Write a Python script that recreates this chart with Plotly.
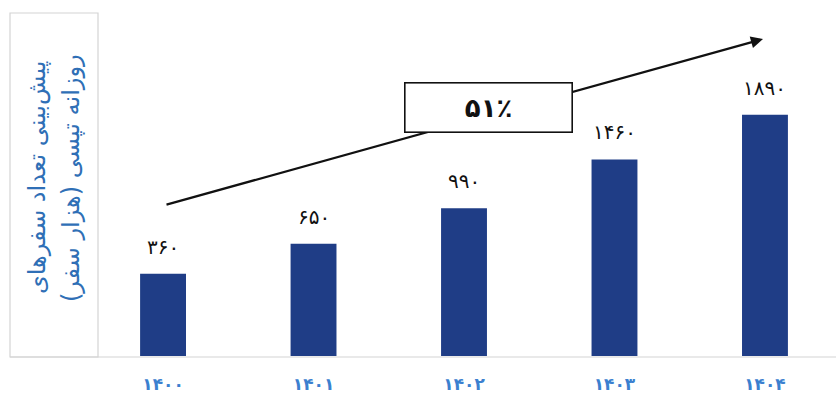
import plotly.graph_objects as go

# ---- data ----
years = ["۱۴۰۰", "۱۴۰۱", "۱۴۰۲", "۱۴۰۳", "۱۴۰۴"]
trips = [360, 650, 990, 1460, 1890]
trip_labels = ["۳۶۰", "۶۵۰", "۹۹۰", "۱۴۶۰", "۱۸۹۰"]
growth_label = "۵۱٪"
title_lines = ["پیش‌بینی تعداد سفرهای", "روزانه تپسی (هزار سفر)"]

# ---- style ----
AXIS_FLOOR = -430          # visual floor of the (truncated) value axis
BAR_COLOR = "#1f3d86"
BLUE = "#2f6fb6"
TICK_BLUE = "#3b80cf"
FONT = "DejaVu Sans"

W, H = 836, 393
ML, MR, MT, MB = 100, 0, 10, 37

fig = go.Figure()
fig.add_trace(go.Bar(
    x=years,
    y=[v - AXIS_FLOOR for v in trips],
    base=AXIS_FLOOR,
    width=0.305,
    marker=dict(color=BAR_COLOR, line=dict(width=0)),
    hoverinfo="skip",
))

annotations = []
# value labels
for yr, v, lab in zip(years, trips, trip_labels):
    annotations.append(dict(
        x=yr, y=v, xref="x", yref="y", text=lab, showarrow=False,
        yanchor="middle", yshift=27,
        font=dict(family=FONT, size=20, color="#111111"),
    ))

pw = W - ML - MR
ph = H - MT - MB
def px(xpix):
    return (xpix - ML) / pw
def py(ypix):
    return (H - MB - ypix) / ph

# trend arrow
annotations.append(dict(
    x=px(763), y=py(39), xref="paper", yref="paper",
    ax=165 - 763, ay=205 - 39, axref="pixel", ayref="pixel",
    text="", showarrow=True, arrowhead=2, arrowsize=1.1, arrowwidth=2.2,
    arrowcolor="#111111",
))
# growth box
annotations.append(dict(
    x=px(488), y=py(107), xref="paper", yref="paper",
    text="<b>" + growth_label + "</b>", showarrow=False,
    width=166, height=48, borderpad=0,
    bgcolor="white", bordercolor="#111111", borderwidth=1.6,
    font=dict(family=FONT, size=26, color="#111111"),
    xanchor="center", yanchor="middle",
))
# title lines in the left box
for xc, line in zip([37, 71], title_lines):
    annotations.append(dict(
        x=px(xc), y=py(178), xref="paper", yref="paper",
        text=line, showarrow=False, textangle=-90,
        xanchor="center", yanchor="middle",
        font=dict(family=FONT, size=24, color=BLUE),
    ))

shapes = [
    dict(type="rect", xref="paper", yref="paper",
         x0=px(10), x1=px(98), y0=py(357), y1=py(13),
         line=dict(color="#d4d4d4", width=1.2), layer="below"),
    dict(type="line", xref="paper", yref="paper",
         x0=px(10), x1=1.0, y0=py(357), y1=py(357),
         line=dict(color="#d4d4d4", width=1.2), layer="below"),
]

k = 0.104  # px per unit
fig.update_layout(
    width=W, height=H,
    margin=dict(l=ML, r=MR, t=MT, b=MB),
    paper_bgcolor="white", plot_bgcolor="white",
    showlegend=False,
    annotations=annotations,
    shapes=shapes,
    xaxis=dict(
        type="category", range=[-0.419, 4.472],
        tickvals=years, ticktext=["<b>" + y + "</b>" for y in years],
        showgrid=False, zeroline=False, showline=False,
        ticks="outside", ticklen=13, tickcolor="rgba(0,0,0,0)",
        tickfont=dict(family=FONT, size=17, color=TICK_BLUE),
        fixedrange=True,
    ),
    yaxis=dict(
        range=[AXIS_FLOOR, AXIS_FLOOR + ph / k],
        showgrid=False, zeroline=False, showline=False,
        showticklabels=False, ticks="", fixedrange=True,
    ),
)

fig.write_html(
    "out.html",
    config={"displayModeBar": False},
    post_script="document.body.style.margin='0px';document.body.style.overflow='hidden';",
)
